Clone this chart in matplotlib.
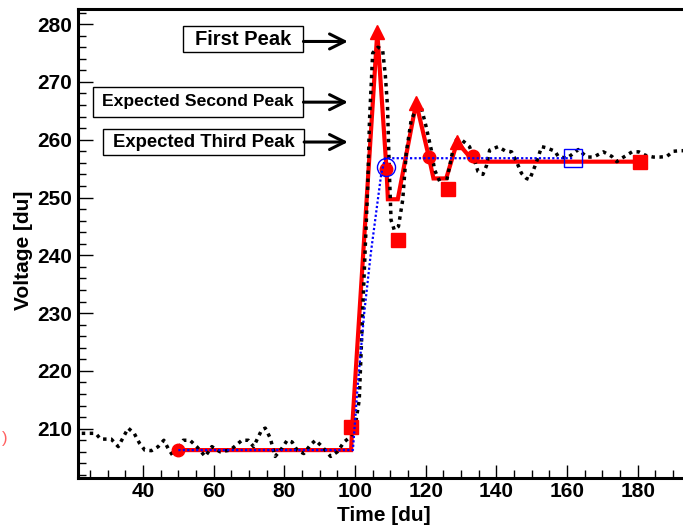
import matplotlib
matplotlib.use("Agg")
import matplotlib.pyplot as plt
from matplotlib.patches import Rectangle
from matplotlib.ticker import MultipleLocator

plt.rcParams["font.family"] = "Liberation Sans"
plt.rcParams["font.weight"] = "bold"

# sampled pulse (black dotted)
trace_t = [21.2, 22.5, 26.6, 28.0, 31.0, 33.0, 35.8, 37.5, 39.0, 40.5, 42.4, 44.3, 45.9,
           47.1, 48.6, 51.4, 53.3, 55.2, 57.6, 59.5, 61.8, 64.7, 68.0, 69.8, 71.3, 73.6,
           74.6, 76.0, 77.4, 79.3, 80.8, 82.2, 83.6, 85.5, 87.4, 88.8, 90.7, 93.1, 95.0,
           96.9, 98.3, 99.8, 101.2, 102.6, 103.6, 104.1, 105.0, 106.5, 107.8, 108.6,
           109.2, 109.7, 110.2, 111.1, 112.3, 113.5, 114.5, 115.9, 117.5, 118.7, 120.1,
           121.6, 122.5, 124.4, 125.8, 127.7, 128.7, 130.1, 131.5, 132.4, 133.8, 134.8,
           136.2, 137.2, 138.1, 140.5, 142.4, 144.3, 145.7, 147.1, 148.5, 149.4, 150.9,
           151.9, 152.8, 154.2, 156.6, 157.5, 159.9, 161.3, 163.2, 165.6, 167.5, 170.3,
           172.7, 174.1, 175.5, 178.4, 180.3, 182.2, 184.4, 186.3, 188.2, 190.1, 192.0,
           194.5]
trace_v = [208.2, 209.2, 209.2, 208.2, 208.2, 206.9, 210.1, 209.2, 207.5, 206.3, 206.2,
           206.9, 208.0, 206.6, 205.2, 208.0, 208.0, 206.9, 205.2, 206.9, 206.0, 206.3,
           208.0, 208.0, 206.9, 209.8, 210.1, 208.4, 205.2, 206.6, 208.0, 207.7, 206.3,
           205.7, 207.2, 208.0, 206.9, 205.2, 206.0, 207.7, 208.4, 209.5, 215.0, 236.9,
           251.9, 263.4, 275.0, 276.0, 275.6, 271.0, 265.7, 254.8, 246.1, 244.4, 245.0,
           249.6, 257.7, 263.4, 265.5, 265.7, 262.3, 258.2, 254.8, 252.2, 252.5, 258.2,
           260.0, 260.0, 259.3, 258.8, 256.5, 254.5, 254.0, 255.5, 258.2, 258.8, 258.1,
           257.9, 256.2, 254.2, 253.3, 253.1, 255.4, 257.1, 258.8, 258.6, 258.0, 257.1,
           256.8, 257.4, 258.3, 257.0, 257.0, 257.9, 257.1, 256.2, 256.8, 257.9, 257.9,
           257.3, 257.0, 257.0, 257.1, 258.0, 258.1, 258.1]

# piecewise model (red line)
model_t = [50.0, 98.9, 99.2, 106.3, 108.9, 109.3, 112.1, 117.3, 120.9, 122.2, 125.8,
           128.9, 132.5, 133.8, 180.7]
model_v = [206.3, 206.3, 210.3, 278.6, 255.0, 249.7, 249.7, 266.4, 257.0, 253.3, 253.3,
           259.6, 257.0, 256.2, 256.2]

square_t = [99.0, 112.1, 126.3, 180.7]
square_v = [210.3, 242.7, 251.5, 256.2]
circle_t = [50.0, 108.9, 120.9, 133.4]
circle_v = [206.3, 255.0, 257.0, 257.2]
peak_t = [106.3, 117.3, 128.9]
peak_v = [278.6, 266.4, 259.6]

# rise-time model (blue dotted)
rise_t = [50.0, 99.4, 100.7, 102.6, 104.5, 107.4, 108.5, 161.6]
rise_v = [206.3, 206.3, 217.0, 230.0, 240.5, 254.0, 256.8, 256.8]
rise_mark_t = [108.9]
rise_mark_v = [255.2]
plateau_t = [161.6]
plateau_v = [256.8]

labels = ["First Peak", "Expected Second Peak", "Expected Third Peak"]
label_sizes = [14.5, 12.6, 13.3]
# box extents (x0, x1, y0, y1) and arrow heights, data units
label_boxes = [(51.4, 85.4, 275.1, 279.6), (25.8, 85.4, 263.9, 269.2), (28.6, 85.6, 257.3, 261.8)]
arrow_y = [277.0, 266.5, 259.6]
arrow_tip = 98.0

fig = plt.figure(figsize=(6.83, 5.29), dpi=100)
ax = fig.add_axes([0.1135, 0.0964, 0.8965, 0.8875])

ax.plot(model_t, model_v, color="red", lw=3.0, zorder=3, solid_joinstyle="miter")
ax.plot(trace_t, trace_v, color="black", lw=2.5, ls=(0, (1, 1.3)), dash_capstyle="butt", zorder=4)
ax.plot(square_t, square_v, ls="none", marker="s", ms=10, color="red", mec="red", zorder=5)
ax.plot(circle_t, circle_v, ls="none", marker="o", ms=9, color="red", mec="red", zorder=5)
ax.plot(peak_t, peak_v, ls="none", marker="^", ms=10.5, color="red", mec="red", zorder=5)
ax.plot(rise_t, rise_v, color="blue", lw=1.6, ls=(0, (1, 1)), dash_capstyle="butt", zorder=6)
ax.plot(rise_mark_t, rise_mark_v, ls="none", marker="o", ms=13, mfc="none", mec="blue", mew=1.0, zorder=7)
ax.plot(plateau_t, plateau_v, ls="none", marker="s", ms=13, mfc="none", mec="blue", mew=1.0, zorder=7)

for text, size, (x0, x1, y0, y1), ya in zip(labels, label_sizes, label_boxes, arrow_y):
    ax.add_patch(Rectangle((x0, y0), x1 - x0, y1 - y0, fc="white", ec="black", lw=1.0, zorder=8))
    ax.text((x0 + x1) / 2, (y0 + y1) / 2, text, ha="center", va="center",
            fontsize=size, fontweight="bold", zorder=9)
    ax.annotate("", xy=(arrow_tip, ya), xytext=(x1, ya),
                arrowprops=dict(arrowstyle="->", lw=2.2, color="black", mutation_scale=27,
                                shrinkA=0, shrinkB=0), zorder=9)

ax.set_xlim(21.47, 194.75)
ax.set_ylim(201.47, 282.7)

ax.xaxis.set_major_locator(MultipleLocator(20))
ax.xaxis.set_minor_locator(MultipleLocator(5))
ax.yaxis.set_major_locator(MultipleLocator(10))
ax.yaxis.set_minor_locator(MultipleLocator(2))
ax.tick_params(axis="both", which="both", direction="in", width=1.0, labelsize=15)
ax.tick_params(axis="y", which="major", length=11, pad=4)
ax.tick_params(axis="y", which="minor", length=5.5)
ax.tick_params(axis="x", which="major", length=9.5, pad=3)
ax.tick_params(axis="x", which="minor", length=5.5)
for lab in ax.get_xticklabels() + ax.get_yticklabels():
    lab.set_fontweight("bold")

for side in ["left", "bottom", "top", "right"]:
    ax.spines[side].set_linewidth(2.2)

ax.set_xlabel("Time [du]", fontsize=15, fontweight="bold", va="center")
ax.set_ylabel("Voltage [du]", fontsize=15, fontweight="bold", va="center")
ax.xaxis.set_label_coords(0.5, -0.079)
ax.yaxis.set_label_coords(-0.089, 0.485)

fig.text(2 / 683, 1 - 438 / 529, ")", color="#ff6060", fontsize=12, fontweight="normal",
         ha="left", va="center")

fig.savefig("out.png", dpi=100)
